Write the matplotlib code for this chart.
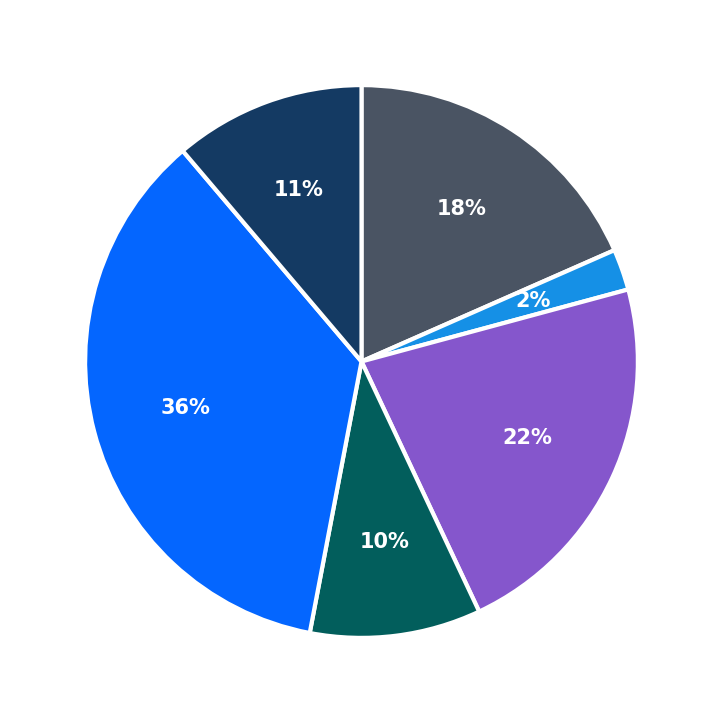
import matplotlib
matplotlib.use("Agg")
import matplotlib.pyplot as plt

# slice shares (percent), clockwise from 12 o'clock
shares = [18.4, 2.4, 22.2, 10.0, 35.8, 11.2]
labels = ["18%", "2%", "22%", "10%", "36%", "11%"]
colors = ["#4a5463", "#1590e6", "#8556cc", "#025e5c", "#0466ff", "#143a63"]

fig = plt.figure(figsize=(7.23, 7.23), dpi=100)
ax = fig.add_axes([0, 0, 1, 1])

wedges, texts = ax.pie(
    shares,
    colors=colors,
    startangle=90,
    counterclock=False,
    wedgeprops=dict(edgecolor="white", linewidth=3),
)
for w, lab in zip(wedges, labels):
    import numpy as np
    ang = np.deg2rad((w.theta1 + w.theta2) / 2)
    ax.text(0.66 * np.cos(ang), 0.66 * np.sin(ang), lab, ha="center", va="center",
            color="white", fontsize=15, fontweight="bold")

lim = 361 / 276
ax.set_xlim(-lim, lim)
ax.set_ylim(-lim, lim)
ax.set_aspect("equal")
ax.axis("off")

fig.savefig("out.png", dpi=100)
